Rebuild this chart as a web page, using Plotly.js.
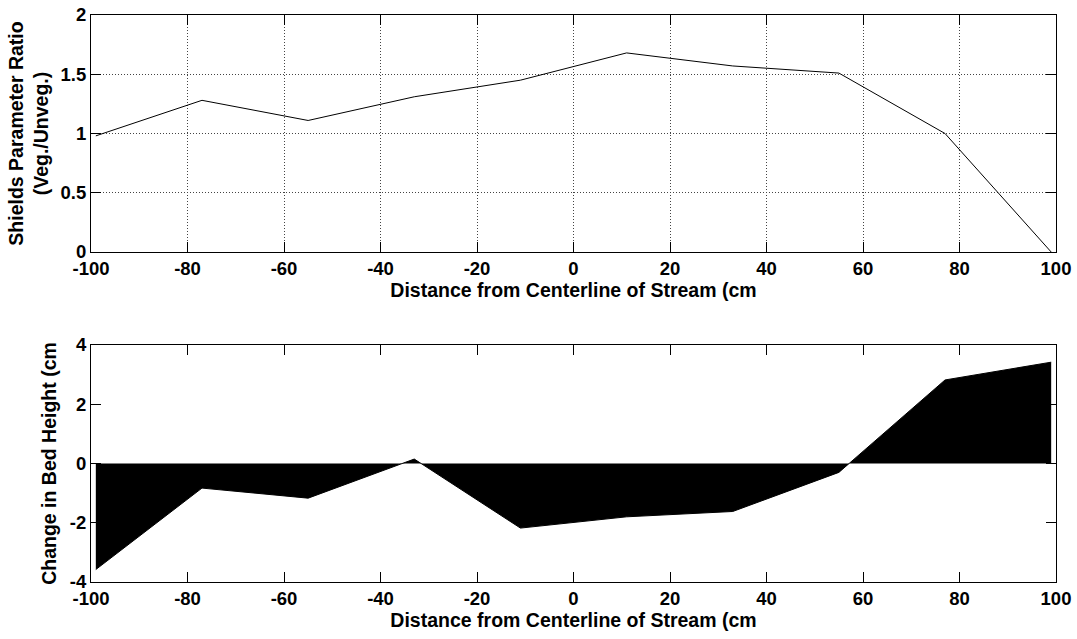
<!DOCTYPE html>
<html>
<head>
<meta charset="utf-8">
<script src="https://cdn.plot.ly/plotly-3.0.1.min.js"></script>
<style>html,body{margin:0;padding:0;background:#fff}#chart{width:1077px;height:639px}</style>
</head>
<body>
<div id="chart"></div>
<script>
// Distance from centerline of stream (cm)
var distance = [-99, -77, -55, -33, -11, 11, 33, 55, 77, 99];
// Shields parameter ratio (Veg./Unveg.)
var shieldsRatio = [0.98, 1.28, 1.11, 1.31, 1.45, 1.68, 1.57, 1.51, 1.00, 0.0];
// Change in bed height (cm)
var bedChange = [-3.58, -0.83, -1.17, 0.15, -2.18, -1.80, -1.62, -0.30, 2.82, 3.42];

var xTicks = [-100, -80, -60, -40, -20, 0, 20, 40, 60, 80, 100];
var xTickText = ['-100', '-80', '-60', '-40', '-20', '0', '20', '40', '60', '80', '100'];
var ratioTicks = [0, 0.5, 1, 1.5, 2];
var ratioTickText = ['0', '0.5', '1', '1.5', '2'];
var bedTicks = [-4, -2, 0, 2, 4];
var bedTickText = ['-4', '-2', '0', '2', '4'];

var FONT = 'Liberation Sans, Arial, Helvetica, sans-serif';
var tickFont = {family: FONT, size: 18.5, color: '#000', weight: 'bold'};
var titleFont = {family: FONT, size: 19.5, color: '#000', weight: 'bold'};

var traces = [
  {x: distance, y: shieldsRatio, type: 'scatter', mode: 'lines',
   line: {color: '#000', width: 1}, xaxis: 'x', yaxis: 'y', hoverinfo: 'skip'},
  {x: distance, y: bedChange, type: 'scatter', mode: 'lines', fill: 'tozeroy',
   fillcolor: '#000', line: {color: '#000', width: 1}, xaxis: 'x2', yaxis: 'y2', hoverinfo: 'skip'}
];

function xAx(anchor, grid) {
  return {
    anchor: anchor, domain: [0, 1], range: [-100, 100],
    tickmode: 'array', tickvals: xTicks, ticktext: xTickText,
    ticks: 'inside', ticklen: 10, tickcolor: '#000', tickwidth: 1,
    showline: true, linecolor: '#000', linewidth: 1, mirror: 'ticks',
    showgrid: grid, gridcolor: '#444', griddash: '1px,2px', gridwidth: 1,
    zeroline: false, tickfont: tickFont, automargin: false,
    title: {text: 'Distance from Centerline of Stream (cm', font: titleFont, standoff: 4}
  };
}

var layout = {
  width: 1077, height: 639,
  margin: {l: 91, r: 21, t: 15, b: 57},
  paper_bgcolor: '#fff', plot_bgcolor: '#fff',
  showlegend: false,
  xaxis: xAx('y', true),
  yaxis: {
    anchor: 'x', domain: [0.582, 1], range: [0, 2],
    tickmode: 'array', tickvals: ratioTicks, ticktext: ratioTickText,
    ticks: 'inside', ticklen: 10, tickcolor: '#000', tickwidth: 1,
    showline: true, linecolor: '#000', linewidth: 1, mirror: 'ticks',
    showgrid: true, gridcolor: '#444', griddash: '1px,2px', gridwidth: 1,
    zeroline: false, tickfont: tickFont, automargin: false,
    title: {text: 'Shields Parameter Ratio<br>(Veg./Unveg.)', font: titleFont, standoff: 6}
  },
  xaxis2: xAx('y2', false),
  yaxis2: {
    anchor: 'x2', domain: [0, 0.418], range: [-4, 4],
    tickmode: 'array', tickvals: bedTicks, ticktext: bedTickText,
    ticks: 'inside', ticklen: 10, tickcolor: '#000', tickwidth: 1,
    showline: true, linecolor: '#000', linewidth: 1, mirror: 'ticks',
    showgrid: false, zeroline: false, tickfont: tickFont, automargin: false,
    title: {text: 'Change in Bed Height (cm', font: titleFont, standoff: 8}
  }
};

Plotly.newPlot('chart', traces, layout, {staticPlot: true, displayModeBar: false});
</script>
</body>
</html>
